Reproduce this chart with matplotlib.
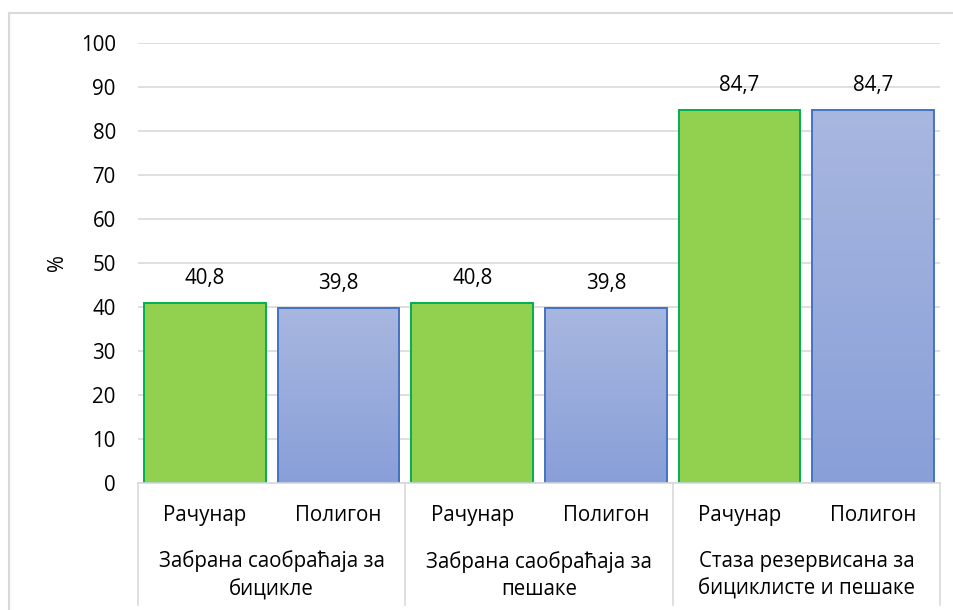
import numpy as np
import matplotlib
matplotlib.use("Agg")
import matplotlib.pyplot as plt
from matplotlib.lines import Line2D
from matplotlib.colors import LinearSegmentedColormap

plt.rcParams['font.family'] = ['Open Sans', 'DejaVu Sans']

groups = ["Забрана саобраћаја за\nбицикле",
          "Забрана саобраћаја за\nпешаке",
          "Стаза резервисана за\nбициклисте и пешаке"]
methods = ["Рачунар", "Полигон"]
racunar = [40.8, 40.8, 84.7]
poligon = [39.8, 39.8, 84.7]

GRID = "#D9D9D9"
FS = 14.8

fig = plt.figure(figsize=(9.54, 6.10), dpi=100)
ax = fig.add_axes([138 / 954, 127 / 610, 802 / 954, 440 / 610])

# interleave the two series: one slot per method, two slots per group
values = []
for r, p in zip(racunar, poligon):
    values += [r, p]
x = np.arange(len(values))
width = 0.91

blue_map = LinearSegmentedColormap.from_list("blue", ["#A8B7E0", "#889FD8"])
for i, v in enumerate(values):
    if i % 2 == 0:
        ax.bar(x[i], v, width, color="#92D050", edgecolor="#00B050",
               linewidth=1.4, zorder=3)
    else:
        bar = ax.bar(x[i], v, width, color="none", edgecolor="#4472C4",
                     linewidth=1.4, zorder=4)[0]
        grad = np.linspace(0, 1, 256).reshape(-1, 1)
        img = ax.imshow(grad, cmap=blue_map, aspect="auto", zorder=3,
                        extent=[x[i] - width / 2, x[i] + width / 2, 0, v],
                        origin="upper", interpolation="bilinear")
        img.set_clip_path(bar)
    ax.text(x[i], v + 3.2, f"{v:.1f}".replace(".", ","), ha="center",
            va="bottom", fontsize=FS, zorder=5)

ax.set_xlim(-0.5, len(values) - 0.5)
ax.set_ylim(0, 100)
ax.set_yticks(np.arange(0, 101, 10))
ax.tick_params(axis="y", length=0, pad=16, labelsize=FS)
ax.yaxis.grid(True, color=GRID, linewidth=1.2, zorder=0)
ax.set_axisbelow(True)
for side in ["top", "right", "left"]:
    ax.spines[side].set_visible(False)
ax.spines["bottom"].set_color(GRID)
ax.spines["bottom"].set_linewidth(1.2)
ax.spines["bottom"].set_zorder(6)

ax.set_ylabel("%", fontsize=FS, labelpad=9)

# two-level category axis
ax.set_xticks(x)
ax.set_xticklabels(methods * len(groups))
ax.tick_params(axis="x", length=0, pad=16, labelsize=FS)
trans = ax.get_xaxis_transform()
for g, name in enumerate(groups):
    ax.text(2 * g + 0.5, -0.21, name, transform=trans, ha="center",
            va="center", fontsize=FS, linespacing=1.4)
for b in np.arange(len(groups) + 1) * 2 - 0.5:
    ax.plot([b, b], [0, -0.277], transform=trans, color=GRID,
            linewidth=1.2, clip_on=False)

# chart frame
fig.add_artist(Line2D([9 / 954, 9 / 954], [0, 597 / 610], color=GRID,
                      linewidth=1.5, transform=fig.transFigure))
fig.add_artist(Line2D([9 / 954, 1], [597 / 610, 597 / 610], color=GRID,
                      linewidth=1.5, transform=fig.transFigure))

fig.savefig("out.png", dpi=100)
